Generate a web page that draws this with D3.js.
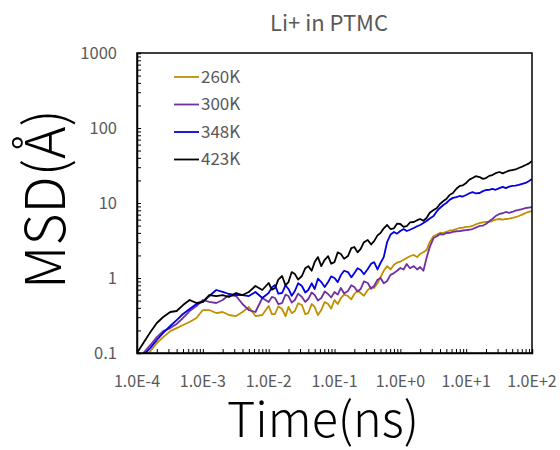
<!DOCTYPE html>
<html>
<head>
<meta charset="utf-8">
<script src="https://cdn.jsdelivr.net/npm/d3@7"></script>
<style>
  body { margin: 0; background: #fff; }
  text { font-family: "Noto Sans CJK JP", "Noto Sans", sans-serif; }
</style>
</head>
<body>
<div id="chart"></div>
<script>
// time (ns), shared by all series
var time = [
  1e-4, 1.25e-4, 1.6e-4, 2e-4, 2.5e-4, 3.2e-4, 4e-4, 5e-4, 6.3e-4, 8e-4,
  1e-3, 1.25e-3, 1.6e-3, 2e-3, 2.5e-3, 3.2e-3, 4e-3, 5e-3, 6.3e-3, 8e-3,
  1e-2, 1.12e-2, 1.25e-2, 1.4e-2, 1.6e-2, 1.8e-2, 2e-2, 2.24e-2, 2.5e-2, 2.8e-2,
  3.2e-2, 3.6e-2, 4e-2, 4.5e-2, 5e-2, 5.6e-2, 6.3e-2, 7.1e-2, 8e-2, 8.9e-2,
  0.1, 0.112, 0.125, 0.14, 0.16, 0.18, 0.2, 0.224, 0.25, 0.28,
  0.32, 0.36, 0.4, 0.45, 0.5, 0.56, 0.63, 0.71, 0.8, 0.89,
  1, 1.12, 1.25, 1.4, 1.6, 1.8, 2, 2.24, 2.5, 2.8,
  3.2, 3.6, 4, 4.5, 5, 5.6, 6.3, 7.1, 8, 8.9,
  10, 11.2, 12.5, 14, 16, 18, 20, 22.4, 25, 28,
  32, 36, 40, 45, 50, 56, 63, 71, 80, 89,
  100
];

var msd260 = [
  0.069, 0.086, 0.106, 0.136, 0.163, 0.196, 0.215, 0.236, 0.259, 0.293,
  0.374, 0.374, 0.341, 0.352, 0.321, 0.311, 0.352, 0.411, 0.311, 0.321,
  0.423, 0.33, 0.331, 0.42, 0.386, 0.31, 0.411, 0.34, 0.363, 0.46,
  0.436, 0.33, 0.341, 0.45, 0.411, 0.32, 0.374, 0.48, 0.45, 0.39,
  0.509, 0.45, 0.541, 0.6, 0.575, 0.52, 0.612, 0.68, 0.631, 0.58,
  0.692, 0.75, 0.736, 0.85, 1.03, 1.25, 1.44, 1.3, 1.5, 1.6,
  1.65, 1.75, 1.85, 1.95, 2.03, 1.9, 2.09, 2.2, 2.36, 3.0,
  3.63, 3.8, 3.98, 4.0, 4.11, 4.3, 4.36, 4.5, 4.64, 4.7,
  4.79, 4.85, 4.94, 5.2, 5.41, 5.5, 5.58, 5.6, 5.75, 6.0,
  6.12, 6.0, 6.12, 6.2, 6.31, 6.5, 6.71, 7.0, 7.36, 7.6,
  7.82
];
var msd300 = [
  0.081, 0.1, 0.128, 0.163, 0.196, 0.215, 0.244, 0.293, 0.363, 0.423,
  0.509, 0.479, 0.464, 0.509, 0.593, 0.575, 0.45, 0.374, 0.352, 0.541,
  0.479, 0.56, 0.541, 0.45, 0.464, 0.6, 0.575, 0.47, 0.509, 0.62,
  0.558, 0.48, 0.525, 0.64, 0.593, 0.5, 0.541, 0.66, 0.612, 0.55,
  0.651, 0.6, 0.736, 0.62, 0.671, 0.8, 0.759, 0.66, 0.714, 0.9,
  0.858, 0.72, 0.782, 0.95, 1.0, 0.85, 0.912, 1.1, 1.16, 1.25,
  1.36, 1.3, 1.54, 1.35, 1.44, 1.3, 1.40, 1.25, 1.85, 2.6,
  3.41, 3.6, 3.86, 3.8, 3.98, 4.0, 4.11, 4.2, 4.23, 4.3,
  4.36, 4.4, 4.50, 4.7, 4.94, 5.0, 5.25, 5.7, 6.12, 6.7,
  7.14, 7.3, 7.59, 7.4, 7.59, 7.9, 8.07, 8.3, 8.58, 8.7,
  8.84
];
var msd348 = [
  0.077, 0.094, 0.117, 0.149, 0.185, 0.229, 0.275, 0.331, 0.386, 0.45,
  0.479, 0.575, 0.692, 0.651, 0.612, 0.593, 0.593, 0.575, 0.651, 0.541,
  0.631, 0.75, 0.807, 0.62, 0.631, 0.8, 0.714, 0.58, 0.671, 0.85,
  0.782, 0.64, 0.692, 0.85, 0.714, 0.98, 0.884, 0.76, 0.884, 1.05,
  1.0, 0.88, 1.096, 1.25, 1.2, 1.02, 1.16, 1.35, 1.28, 1.12,
  1.32, 1.55, 1.63, 1.3, 1.585, 1.9, 3.02, 3.8, 4.11, 3.9,
  4.23, 4.5, 4.23, 4.4, 4.64, 4.9, 5.09, 5.4, 5.75, 6.2,
  6.71, 7.8, 8.58, 9.4, 10.0, 11.0, 11.7, 12.0, 12.4, 12.2,
  12.8, 13.5, 14.0, 13.4, 13.6, 14.4, 14.9, 15.0, 15.4, 15.0,
  15.8, 16.4, 15.8, 16.5, 16.9, 17.0, 17.4, 18.0, 18.5, 19.5,
  20.9
];
var msd423 = [
  0.1, 0.136, 0.19, 0.251, 0.302, 0.352, 0.363, 0.436, 0.509, 0.464,
  0.479, 0.593, 0.575, 0.593, 0.558, 0.631, 0.593, 0.651, 0.782, 0.692,
  0.858, 0.70, 0.736, 0.95, 1.063, 0.80, 0.884, 1.2, 1.13, 0.95,
  1.063, 1.35, 1.44, 1.25, 1.63, 1.9, 1.44, 1.75, 1.96, 1.55,
  1.63, 2.2, 2.09, 1.8, 1.96, 2.5, 2.59, 2.2, 2.45, 3.0,
  3.21, 2.8, 3.1, 3.7, 3.98, 4.6, 5.09, 4.5, 4.6, 5.3,
  5.25, 4.8, 4.9, 5.5, 5.58, 5.9, 6.12, 5.8, 6.31, 7.4,
  8.07, 8.6, 9.70, 10.6, 11.3, 12.8, 13.6, 15.5, 16.9, 17.2,
  18.5, 20.5, 21.5, 22.8, 22.2, 21.0, 21.5, 23.0, 23.6, 25.0,
  25.9, 24.8, 25.9, 27.0, 27.5, 28.0, 29.3, 30.5, 32.1, 33.5,
  36.3
];

var seriesNames = ["260K", "300K", "348K", "423K"];
var seriesColors = ["#bf9000", "#7030a0", "#0000e0", "#000000"];
var seriesValues = [msd260, msd300, msd348, msd423];

var xTicks = [1e-4, 1e-3, 1e-2, 1e-1, 1, 10, 100];
var xTickLabels = ["1.0E-4", "1.0E-3", "1.0E-2", "1.0E-1", "1.0E+0", "1.0E+1", "1.0E+2"];
var yTicks = [0.1, 1, 10, 100, 1000];
var yTickLabels = ["0.1", "1", "10", "100", "1000"];

// layout
var svgWidth = 560;
var svgHeight = 450;
var plot = { left: 137, right: 532, top: 53, bottom: 353 };

var svg = d3.select("#chart").append("svg")
    .attr("width", svgWidth)
    .attr("height", svgHeight);

var x = d3.scaleLog().domain([1e-4, 100]).range([plot.left, plot.right]);
var y = d3.scaleLog().domain([0.1, 1000]).range([plot.bottom, plot.top]);

svg.append("clipPath").attr("id", "clip")
  .append("rect")
    .attr("x", plot.left)
    .attr("y", plot.top)
    .attr("width", plot.right - plot.left)
    .attr("height", plot.bottom - plot.top);

// lines
var line = d3.line()
    .x(function(d) { return x(d[0]); })
    .y(function(d) { return y(d[1]); });

var lineGroup = svg.append("g").attr("clip-path", "url(#clip)");
seriesValues.forEach(function(vals, i) {
  lineGroup.append("path")
    .datum(time.map(function(t, j) { return [t, vals[j]]; }))
    .attr("fill", "none")
    .attr("stroke", seriesColors[i])
    .attr("stroke-width", 1.8)
    .attr("stroke-linejoin", "round")
    .attr("d", line);
});

// frame (top + right)
svg.append("rect")
    .attr("x", plot.left)
    .attr("y", plot.top)
    .attr("width", plot.right - plot.left)
    .attr("height", plot.bottom - plot.top)
    .attr("fill", "none")
    .attr("stroke", "#000")
    .attr("stroke-width", 1.5);

// minor + major ticks, pointing inside
var xAxis = d3.axisBottom(x).tickValues(x.ticks()).tickSize(-4).tickFormat("");
var yAxis = d3.axisLeft(y).tickValues(y.ticks()).tickSize(-4).tickFormat("");

var gx = svg.append("g")
    .attr("transform", `translate(0, ${plot.bottom})`)
    .call(xAxis);
var gy = svg.append("g")
    .attr("transform", `translate(${plot.left}, 0)`)
    .call(yAxis);
[gx, gy].forEach(function(g) {
  g.select(".domain").attr("stroke", "#000").attr("stroke-width", 1.5);
  g.selectAll(".tick line").attr("stroke", "#000").attr("stroke-width", 1);
});

// tick labels
svg.append("g").selectAll("text")
  .data(xTicks)
  .enter()
  .append("text")
    .attr("x", function(d) { return x(d); })
    .attr("y", 381)
    .attr("dy", "0.35em")
    .attr("text-anchor", "middle")
    .attr("fill", "#595959")
    .style("font-size", "16px")
    .text(function(d, i) { return xTickLabels[i]; });

svg.append("g").selectAll("text")
  .data(yTicks)
  .enter()
  .append("text")
    .attr("x", 117)
    .attr("y", function(d) { return y(d); })
    .attr("dy", "0.35em")
    .attr("text-anchor", "end")
    .attr("fill", "#595959")
    .style("font-size", "16.5px")
    .text(function(d, i) { return yTickLabels[i]; });

// legend
var legend = svg.append("g");
seriesNames.forEach(function(name, i) {
  var ly = 77 + i * 27.5;
  legend.append("line")
    .attr("x1", 174).attr("x2", 199)
    .attr("y1", ly).attr("y2", ly)
    .attr("stroke", seriesColors[i])
    .attr("stroke-width", 1.8);
  legend.append("text")
    .attr("x", 201)
    .attr("y", ly)
    .attr("dy", "0.35em")
    .attr("fill", "#595959")
    .style("font-size", "17px")
    .text(name);
});

// scale a text so it spans a given width
function fitWidth(sel, target) {
  var len = sel.node().getComputedTextLength();
  var size = parseFloat(sel.style("font-size"));
  sel.style("font-size", (size * target / len) + "px");
}

// title
var title = svg.append("text")
    .attr("x", 329)
    .attr("y", 31)
    .attr("text-anchor", "middle")
    .attr("fill", "#595959")
    .style("font-size", "19px")
    .text("Li+ in PTMC");
fitWidth(title, 118);

// axis titles
var xTitle = svg.append("text")
    .attr("x", 323)
    .attr("y", 437)
    .attr("text-anchor", "middle")
    .attr("fill", "#000")
    .style("font-size", "48px")
    .style("font-weight", 300)
    .text("Time(ns)");
fitWidth(xTitle, 192);

var yTitle = svg.append("text")
    .attr("transform", "translate(65, 199) rotate(-90)")
    .attr("text-anchor", "middle")
    .attr("fill", "#000")
    .style("font-size", "50px")
    .style("font-weight", 300)
    .text("MSD(Å)");
fitWidth(yTitle, 180);
</script>
</body>
</html>
